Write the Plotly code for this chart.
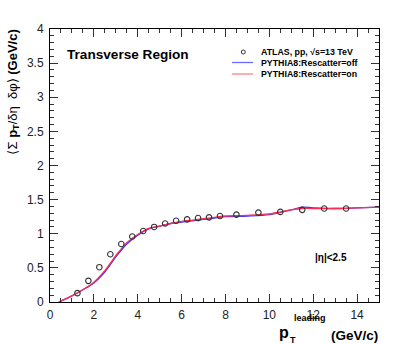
import plotly.graph_objects as go

# ATLAS data
atlas_x = [1.25, 1.75, 2.25, 2.75, 3.25, 3.75, 4.25, 4.75, 5.25, 5.75, 6.25, 6.75, 7.25, 7.75, 8.5, 9.5, 10.5, 11.5, 12.5, 13.5]
atlas_y = [0.13, 0.31, 0.51, 0.70, 0.85, 0.96, 1.04, 1.10, 1.15, 1.19, 1.21, 1.23, 1.24, 1.26, 1.28, 1.31, 1.32, 1.35, 1.37, 1.37]

# PYTHIA8 curves
model_x = [0.4, 1.0, 1.5, 2.0, 2.5, 3.0, 3.5, 4.0, 4.5, 5.0, 5.5, 6.0, 6.5, 7.0, 7.5, 8.0, 9.0, 10.0, 11.0, 11.5, 12.0, 13.0, 14.0, 15.0]
resc_off = [0.00, 0.09, 0.18, 0.28, 0.44, 0.66, 0.85, 0.98, 1.07, 1.11, 1.15, 1.17, 1.19, 1.21, 1.23, 1.25, 1.26, 1.28, 1.35, 1.39, 1.38, 1.37, 1.38, 1.39]
resc_on = [0.00, 0.09, 0.18, 0.29, 0.46, 0.68, 0.87, 0.99, 1.08, 1.11, 1.15, 1.18, 1.20, 1.22, 1.24, 1.26, 1.27, 1.29, 1.35, 1.37, 1.37, 1.37, 1.38, 1.39]

x_ticks = [0, 2, 4, 6, 8, 10, 12, 14]
y_ticks = [0, 0.5, 1, 1.5, 2, 2.5, 3, 3.5, 4]

FONT = "Liberation Sans, Arial, sans-serif"
W, H = 415, 344
L, R, T, B = 50, 36, 29, 42
PW, PH = W - L - R, H - T - B


def px(xp):
    return (xp - L) / PW


def py(yp):
    return (H - B - yp) / PH


fig = go.Figure()
fig.add_trace(go.Scatter(x=model_x, y=resc_off, mode="lines", line=dict(color="#3535ff", width=1.3, shape="spline", smoothing=0.8),
                         name="PYTHIA8:Rescatter=off", showlegend=False))
fig.add_trace(go.Scatter(x=model_x, y=resc_on, mode="lines", line=dict(color="#ff2c55", width=1.3, shape="spline", smoothing=0.8),
                         name="PYTHIA8:Rescatter=on", showlegend=False))
fig.add_trace(go.Scatter(x=atlas_x, y=atlas_y, mode="markers",
                         marker=dict(symbol="circle-open", size=5.5, color="#333333", line=dict(width=1.1)),
                         name="ATLAS, pp, √s=13 TeV", showlegend=False))

axis_common = dict(showgrid=False, zeroline=False, showline=True, linecolor="black", linewidth=1,
                   mirror="ticks", ticks="inside", tickcolor="#333333", ticklen=8, tickwidth=1,
                   tickfont=dict(family=FONT, size=12, color="#222222"))
fig.update_xaxes(range=[0, 15], tickvals=x_ticks, ticktext=[str(v) for v in x_ticks],
                 minor=dict(dtick=0.5, ticks="inside", ticklen=4, tickcolor="#333333"),
                 ticklabelstandoff=2, **axis_common)
fig.update_yaxes(range=[0, 4], tickvals=y_ticks, ticktext=["0", "0.5", "1", "1.5", "2", "2.5", "3", "3.5", "4"],
                 minor=dict(dtick=0.1, ticks="inside", ticklen=4, tickcolor="#333333"),
                 ticklabelstandoff=3, **axis_common)

ann = []
# Transverse Region
ann.append(dict(text="<b>Transverse Region</b>", x=px(65), y=py(54), xref="paper", yref="paper",
                xanchor="left", yanchor="middle", showarrow=False, font=dict(family=FONT, size=13.6, color="black")))
# eta label
ann.append(dict(text="<b>|η|<2.5</b>", x=px(313), y=py(257), xref="paper", yref="paper",
                xanchor="left", yanchor="middle", showarrow=False, font=dict(family=FONT, size=10, color="black")))
# legend texts
leg_texts = ["<b>ATLAS, pp, √s=13 TeV</b>", "<b>PYTHIA8:Rescatter=off</b>", "<b>PYTHIA8:Rescatter=on</b>"]
leg_y = [52, 62.5, 73.5]
for t_, yy in zip(leg_texts, leg_y):
    ann.append(dict(text=t_, x=px(259), y=py(yy), xref="paper", yref="paper", xanchor="left", yanchor="middle",
                    showarrow=False, font=dict(family=FONT, size=8.8, color="black")))
# x title
ann.append(dict(text="<b>(GeV/c)</b>", x=px(380), y=py(335), xref="paper", yref="paper", xanchor="right", yanchor="middle",
                showarrow=False, font=dict(family=FONT, size=13.5, color="black")))
ann.append(dict(text="<b>p</b>", x=px(291), y=py(332), xref="paper", yref="paper", xanchor="right", yanchor="middle",
                showarrow=False, font=dict(family=FONT, size=16, color="black")))
ann.append(dict(text="<b>T</b>", x=px(288), y=py(339.5), xref="paper", yref="paper", xanchor="left", yanchor="middle",
                showarrow=False, font=dict(family=FONT, size=9, color="black")))
ann.append(dict(text="<b>leading</b>", x=px(292), y=py(318), xref="paper", yref="paper", xanchor="left", yanchor="middle",
                showarrow=False, font=dict(family=FONT, size=9, color="black")))
# y title
ann.append(dict(text="⟨Σ <b>p<sub>T</sub></b>/δη  δφ⟩ <b>(GeV/c)</b>", x=px(13), y=py(28), xref="paper", yref="paper",
                xanchor="center", yanchor="top", textangle=-90, showarrow=False,
                font=dict(family=FONT, size=13, color="black")))

shapes = [
    dict(type="circle", xref="paper", yref="paper", x0=px(241.3), x1=px(245.3), y0=py(54), y1=py(50),
         line=dict(color="#333333", width=1)),
    dict(type="line", xref="paper", yref="paper", x0=px(232), x1=px(253), y0=py(62.5), y1=py(62.5),
         line=dict(color="#6a6aff", width=1.3)),
    dict(type="line", xref="paper", yref="paper", x0=px(232), x1=px(253), y0=py(74), y1=py(74),
         line=dict(color="#ff9a9a", width=1.6)),
]

fig.update_layout(width=W, height=H, margin=dict(l=L, r=R, t=T, b=B, autoexpand=False),
                  paper_bgcolor="white", plot_bgcolor="white", showlegend=False,
                  annotations=ann, shapes=shapes, font=dict(family=FONT))

fig.write_html("out.html", config={"displayModeBar": False},
               post_script="document.body.style.margin='0';document.body.style.padding='0';")
